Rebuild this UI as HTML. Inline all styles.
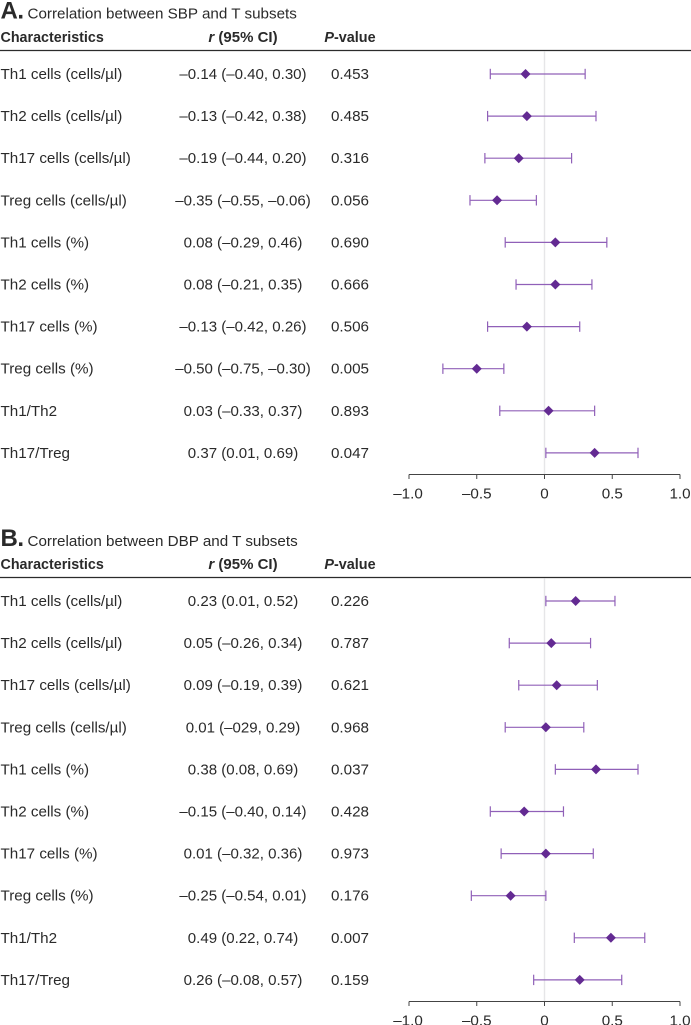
<!DOCTYPE html>
<html lang="en">
<head>
<meta charset="utf-8">
<title>Correlation between blood pressure and T subsets</title>
<style>
html,body{margin:0;padding:0;background:#fff;width:691px;height:1025px;overflow:hidden}
svg{display:block}
text{font-family:"Liberation Sans",sans-serif;fill:#2a2a2a}
</style>
</head>
<body>
<svg id="chart" xmlns="http://www.w3.org/2000/svg" width="691" height="1025" viewBox="0 0 691 1025"></svg>
<script>
const categories = ["Th1 cells (cells/µl)","Th2 cells (cells/µl)","Th17 cells (cells/µl)","Treg cells (cells/µl)","Th1 cells (%)","Th2 cells (%)","Th17 cells (%)","Treg cells (%)","Th1/Th2","Th17/Treg"];
const tickValues = [-1,-0.5,0,0.5,1];
const tickLabels = ["–1.0","–0.5","0","0.5","1.0"];

const sbpR = [-0.14,-0.13,-0.19,-0.35,0.08,0.08,-0.13,-0.50,0.03,0.37];
const sbpLow = [-0.40,-0.42,-0.44,-0.55,-0.29,-0.21,-0.42,-0.75,-0.33,0.01];
const sbpHigh = [0.30,0.38,0.20,-0.06,0.46,0.35,0.26,-0.30,0.37,0.69];
const sbpCiText = ["–0.14 (–0.40, 0.30)","–0.13 (–0.42, 0.38)","–0.19 (–0.44, 0.20)","–0.35 (–0.55, –0.06)","0.08 (–0.29, 0.46)","0.08 (–0.21, 0.35)","–0.13 (–0.42, 0.26)","–0.50 (–0.75, –0.30)","0.03 (–0.33, 0.37)","0.37 (0.01, 0.69)"];
const sbpP = ["0.453","0.485","0.316","0.056","0.690","0.666","0.506","0.005","0.893","0.047"];

const dbpR = [0.23,0.05,0.09,0.01,0.38,-0.15,0.01,-0.25,0.49,0.26];
const dbpLow = [0.01,-0.26,-0.19,-0.29,0.08,-0.40,-0.32,-0.54,0.22,-0.08];
const dbpHigh = [0.52,0.34,0.39,0.29,0.69,0.14,0.36,0.01,0.74,0.57];
const dbpCiText = ["0.23 (0.01, 0.52)","0.05 (–0.26, 0.34)","0.09 (–0.19, 0.39)","0.01 (–029, 0.29)","0.38 (0.08, 0.69)","–0.15 (–0.40, 0.14)","0.01 (–0.32, 0.36)","–0.25 (–0.54, 0.01)","0.49 (0.22, 0.74)","0.26 (–0.08, 0.57)"];
const dbpP = ["0.226","0.787","0.621","0.968","0.037","0.428","0.973","0.176","0.007","0.159"];

const svg = document.getElementById('chart');
const NS = 'http://www.w3.org/2000/svg';
const xScale = v => 544.5 + v * 135.5;

function make(parent, tag, attrs, txt) {
  const el = document.createElementNS(NS, tag);
  for (const k in attrs) el.setAttribute(k, attrs[k]);
  if (txt !== undefined) el.textContent = txt;
  parent.appendChild(el);
  return el;
}

function panel(opts) {
  const g = make(svg, 'g', {});
  
  
  const yScale = i => opts.rowTop + i * opts.rowStep;

  const letter = make(g, 'text', {x: 0.5, y: opts.titleY, 'font-size': 24, 'font-weight': 700, 'letter-spacing': -0.5}, opts.letter);
  
  
  const title = make(g, 'text', {x: 27.5, y: opts.titleY, 'font-size': 15.2, fill: '#333'}, opts.title);
  
  

  const h1 = make(g, 'text', {x: 0.5, y: opts.headY, 'font-size': 14.3, 'font-weight': 700}, 'Characteristics');
  
  
  const h2 = make(g, 'text', {x: 243, y: opts.headY, 'font-size': 15, 'font-weight': 700, 'text-anchor': 'middle'});
  
  
  make(h2, 'tspan', {'font-style': 'italic'}, 'r');
  make(h2, 'tspan', {}, ' (95% CI)');
  const h3 = make(g, 'text', {x: 350, y: opts.headY, 'font-size': 14.4, 'font-weight': 700, 'text-anchor': 'middle'});
  
  
  make(h3, 'tspan', {'font-style': 'italic'}, 'P');
  make(h3, 'tspan', {}, '-value');

  const rule = make(g, 'line', {x1: 0, x2: 691, y1: opts.ruleY, y2: opts.ruleY, stroke: '#2b2b2b', 'stroke-width': 1.3});
  
  

  const zero = make(g, 'line', {x1: xScale(0), x2: xScale(0), y1: opts.ruleY + 1, y2: opts.axisY, stroke: '#e6e6e8', 'stroke-width': 1.4});
  
  

  categories.forEach((c, i) => {
    const y = yScale(i);
    const label = make(g, 'text', {x: 0.5, y: y + 5, 'font-size': 15.2, fill: '#333'}, c);
    
    
    const ci = make(g, 'text', {x: 243, y: y + 5, 'font-size': 15.05, fill: '#333', 'text-anchor': 'middle'}, opts.ci[i]);
    
    
    const p = make(g, 'text', {x: 350, y: y + 5, 'font-size': 15.2, fill: '#333', 'text-anchor': 'middle'}, opts.p[i]);
    
    

    const row = make(g, 'g', {stroke: '#9060b8', 'stroke-width': 1.2});
    
    
    const lo = xScale(opts.low[i]), hi = xScale(opts.high[i]), m = xScale(opts.r[i]);
    make(row, 'line', {x1: lo, x2: hi, y1: y, y2: y});
    make(row, 'line', {x1: lo, x2: lo, y1: y - 5.2, y2: y + 5.2});
    make(row, 'line', {x1: hi, x2: hi, y1: y - 5.2, y2: y + 5.2});
    const d = make(g, 'polygon', {points: [[m, y - 5], [m + 5, y], [m, y + 5], [m - 5, y]].map(a => a.join(',')).join(' '), fill: '#632a92'});
    
    
  });

  const axis = make(g, 'g', {});
  
  
  make(axis, 'line', {x1: xScale(-1), x2: xScale(1), y1: opts.axisY, y2: opts.axisY, stroke: '#444', 'stroke-width': 1});
  tickValues.forEach((t, i) => {
    make(axis, 'line', {x1: xScale(t), x2: xScale(t), y1: opts.axisY, y2: opts.axisY + 4.5, stroke: '#444', 'stroke-width': 1});
    const tl = make(axis, 'text', {x: xScale(t) - (t === -1 ? 1 : 0), y: opts.axisY + 24, 'font-size': 15.2, fill: '#333', 'text-anchor': 'middle'}, tickLabels[i]);
    
    
  });
}

panel({name: 'sbp', letter: 'A.', title: 'Correlation between SBP and T subsets', titleY: 18.5, headY: 42, ruleY: 50.5, rowTop: 74, rowStep: 42.1, axisY: 474.5, r: sbpR, low: sbpLow, high: sbpHigh, ci: sbpCiText, p: sbpP});
panel({name: 'dbp', letter: 'B.', title: 'Correlation between DBP and T subsets', titleY: 546, headY: 569, ruleY: 577.5, rowTop: 601, rowStep: 42.1, axisY: 1001.5, r: dbpR, low: dbpLow, high: dbpHigh, ci: dbpCiText, p: dbpP});
</script>
</body>
</html>
